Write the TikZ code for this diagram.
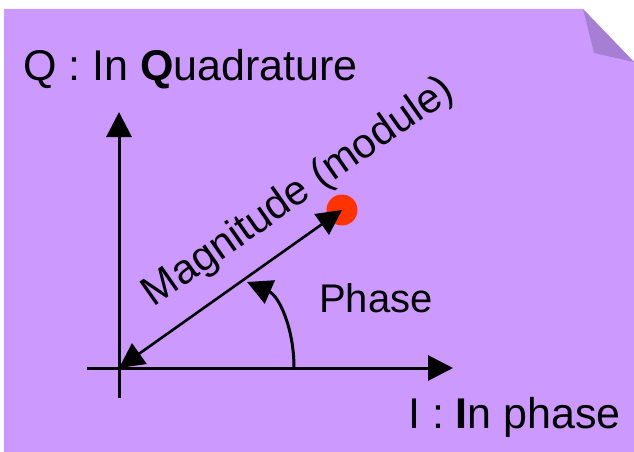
\documentclass[tikz,border=0pt]{standalone}
\usepackage{fontspec}
\setmainfont{Liberation Sans}
\usetikzlibrary{arrows.meta}
\definecolor{bgpurple}{RGB}{204,153,255}
\definecolor{flappurple}{RGB}{166,126,212}
\definecolor{dotred}{RGB}{255,51,0}
\begin{document}
\begin{tikzpicture}[x=1pt,y=-1pt,
  axis/.style={line width=3pt,-{Triangle[length=25pt,width=25pt]}},
  vec/.style={line width=2.6pt,{Triangle[length=25pt,width=25pt]}-{Triangle[length=25pt,width=25pt]}},
  lbl/.style={inner sep=0pt,font=\fontsize{43}{47}\selectfont}]
\useasboundingbox (0,0) rectangle (634,452);
% note paper
\fill[bgpurple] (4,9) -- (583,9) -- (634,62) -- (634,452) -- (4,452) -- cycle;
\fill[flappurple] (583,9) -- (594,53) -- (634,62) -- cycle;
% coordinates
\coordinate (O) at (119,368);
\coordinate (Qbot) at (119,398);
\coordinate (Qtop) at (119,112);
\coordinate (Ileft) at (87,368);
\coordinate (Iright) at (453,368);
\coordinate (S) at (294,368);
\coordinate (E) at (247,282);
% red point
\node[circle,fill=dotred,minimum size=31pt,inner sep=0pt] (P) at (342,210) {};
% axes
\draw[axis] (Qbot) -- (Qtop);
\draw[axis] (Ileft) -- (Iright);
% magnitude
\draw[vec] (P.center) -- (O);
% phase arc
\draw[line width=3pt,-{Triangle[length=25pt,width=25pt]}] (S) .. controls (294,328) and (279,296) .. (E);
% labels
\node[lbl,anchor=base west] (qlab) at (23,80) {Q : In \textbf{Q}uadrature};
\node[lbl,anchor=base west] (ilab) at (408,428) {I : \textbf{I}n phase};
\node[lbl,anchor=base west,font=\fontsize{40}{44}\selectfont] (ph) at (319,312) {Phase};
\node[lbl,rotate=35,font=\fontsize{41.5}{45}\selectfont] (mag) at (299,193) {Magnitude (module)};
\end{tikzpicture}
\end{document}
